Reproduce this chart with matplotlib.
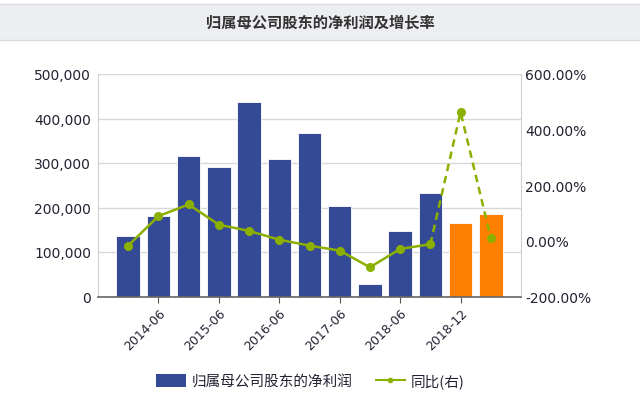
import matplotlib
matplotlib.use('Agg')
import matplotlib.pyplot as plt
from matplotlib.patches import Rectangle, Patch
from matplotlib.lines import Line2D
import matplotlib.ticker as mticker
import numpy as np

plt.rcParams['font.family'] = ['DejaVu Sans', 'Noto Sans CJK SC']

# data
periods = ['2013-12', '2014-06', '2014-12', '2015-06', '2015-12', '2016-06', '2016-12',
           '2017-06', '2017-12', '2018-06', '2018-09', '2018-12', '2019-12']
shown_labels = ['2014-06', '2015-06', '2016-06', '2017-06', '2018-06', '2018-12']
profit = [137000, 182000, 316000, 290000, 437000, 308000, 368000,
          203000, 29000, 147000, 233000, 166000, 185000]
forecast = [False] * 11 + [True] * 2
growth = [-17, 89, 131, 58, 36, 4, -17, -35, -95, -29, -12, 463, 10]

bar_blue = '#344a97'
bar_orange = '#ff7f00'
line_green = '#8cb000'
text_col = '#222233'

W, H = 640, 406
fig = plt.figure(figsize=(W / 100, H / 100), dpi=100)

# header band
fig.patches.append(Rectangle((0, 1 - 41 / H), 1, 36 / H, transform=fig.transFigure,
                             facecolor='#eceef1', edgecolor='none'))
fig.lines.append(Line2D([0, 1], [1 - 5 / H, 1 - 5 / H], transform=fig.transFigure,
                        color='#d8dadd', lw=1))
fig.lines.append(Line2D([0, 1], [1 - 41 / H, 1 - 41 / H], transform=fig.transFigure,
                        color='#d8dadd', lw=1))
fig.text(0.5, 1 - 23 / H, '归属母公司股东的净利润及增长率', ha='center', va='center',
         fontsize=11, color='#333333', fontweight='bold',
         family=['Noto Sans CJK SC', 'DejaVu Sans'])

ax = fig.add_axes([98 / W, 1 - 297.5 / H, 423 / W, 222.5 / H])
x = np.arange(len(profit))
colors = [bar_orange if f else bar_blue for f in forecast]
ax.bar(x, profit, width=0.78, color=colors, edgecolor='white', linewidth=0.6, zorder=2)
ax.set_xlim(-1, len(profit))
ax.set_ylim(0, 500000)
ax.set_yticks(np.arange(0, 500001, 100000))
ax.yaxis.set_major_formatter(mticker.FuncFormatter(lambda v, p: '{:,.0f}'.format(v)))
ax.grid(axis='y', color='#d9d9d9', lw=1, zorder=0)
ax.set_axisbelow(True)

tick_pos = [periods.index(s) for s in shown_labels]
ax.set_xticks(tick_pos)
ax.set_xticklabels(shown_labels, rotation=45, ha='right', rotation_mode='anchor')
ax.tick_params(axis='x', length=4, color='#555555', labelsize=9, labelcolor=text_col, pad=3)
ax.tick_params(axis='y', length=0, labelsize=10, labelcolor=text_col, pad=5)
for s in ['left', 'right', 'top']:
    ax.spines[s].set_color('#d0d0d0')
ax.spines['top'].set_visible(False)
ax.spines['bottom'].set_color('#666666')
ax.spines['bottom'].set_linewidth(1.2)

ax2 = ax.twinx()
ax2.set_ylim(-200, 600)
ax2.set_yticks(np.arange(-200, 601, 200))
ax2.yaxis.set_major_formatter(mticker.FuncFormatter(lambda v, p: '%.2f%%' % v))
ax2.tick_params(axis='y', length=0, labelsize=10, labelcolor=text_col, pad=3)
for s in ax2.spines.values():
    s.set_visible(False)

n_act = forecast.index(True)
ax2.plot(x[:n_act], growth[:n_act], color=line_green, lw=1.8, marker='o', ms=5.5, zorder=3)
ax2.plot(x[n_act - 1:], growth[n_act - 1:], color=line_green, lw=1.8, ls=(0, (3, 2)),
         zorder=3)
ax2.plot(x[n_act:], growth[n_act:], color=line_green, lw=0, marker='o', ms=5.5, zorder=3)

handles = [Patch(facecolor=bar_blue, edgecolor='none'),
           Line2D([0], [0], color=line_green, lw=1.5, marker='o', ms=3)]
fig.legend(handles, ['归属母公司股东的净利润', '同比(右)'], loc='center',
           bbox_to_anchor=(0.485, 1 - 382 / H), ncol=2, frameon=False,
           prop={'family': ['Noto Sans CJK SC', 'DejaVu Sans'], 'size': 10.5},
           handlelength=2.0, handleheight=1.0, handletextpad=0.4, columnspacing=1.6,
           labelcolor=text_col)

fig.savefig('out.png', dpi=100)
